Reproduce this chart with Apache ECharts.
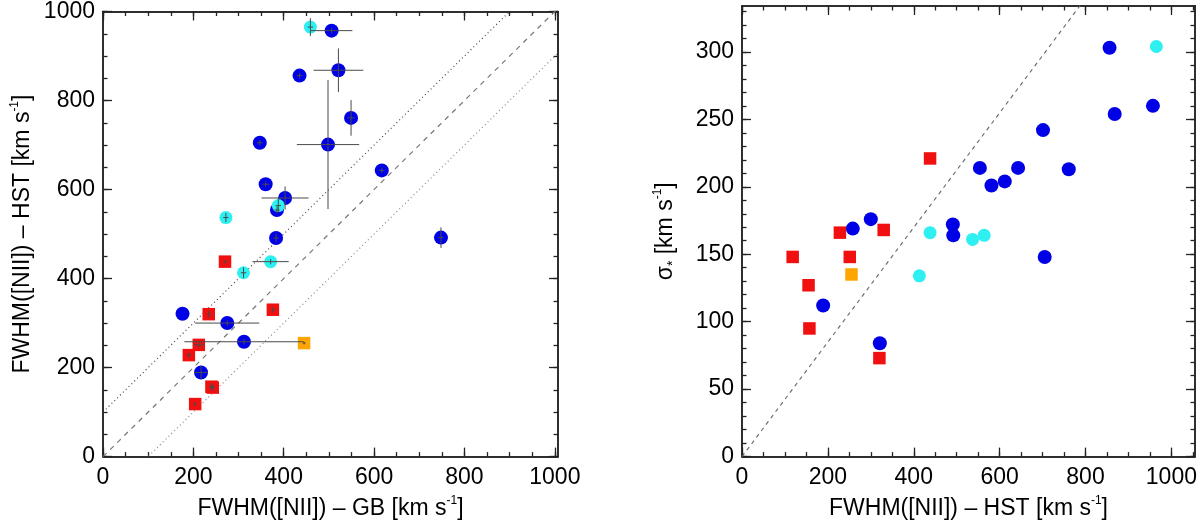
<!DOCTYPE html>
<html>
<head>
<meta charset="utf-8">
<script src="https://cdn.jsdelivr.net/npm/echarts@6/dist/echarts.min.js"></script>
<style>
html, body { margin: 0; padding: 0; background: #fff; }
#main { width: 1200px; height: 525px; }
</style>
</head>
<body>
<div id="main"></div>
<script>
// blue circles
var blueGB     = [506, 521, 435, 549, 347, 498, 617, 360, 403, 385, 383, 748, 176, 275, 312, 217];
var blueHST    = [957, 868, 856, 761, 705, 701, 643, 612, 581, 554, 491, 492, 321, 300, 258, 189];
var blueSig    = [260, 254, 303, 213, 148, 242, 214, 204, 201, 214, 172, 164, 84, 176, 169, 112];
var blueGBErr  = [46, 55, 6, 8, 6, 69, 6, 8, 52, 6, 6, 6, 0, 71, 132, 15];
var blueHSTErr = [6, 49, 6, 40, 6, 145, 6, 6, 26, 8, 10, 23, 0, 6, 6, 15];

// cyan circles
var cyanGB     = [459, 388, 272, 371, 311];
var cyanHST    = [965, 564, 537, 438, 413];
var cyanSig    = [304, 164, 161, 166, 134];
var cyanGBErr  = [6, 6, 6, 40, 6];
var cyanHSTErr = [20, 15, 10, 6, 12];

// red squares
var redGB     = [270, 376, 234, 212, 190, 243, 240, 204];
var redHST    = [438, 330, 320, 251, 228, 155, 157, 118];
var redSig    = [221, 168, 73, 148, 166, 127, 95, 148];
var redGBErr  = [4, 5, 5, 12, 5, 5, 5, 4];
var redHSTErr = [4, 6, 8, 6, 6, 8, 8, 4];

// orange square
var orangeGB     = [445];
var orangeHST    = [255];
var orangeSig    = [135];
var orangeGBErr  = [3];
var orangeHSTErr = [3];

// ticks
var fwhmMajor  = [0, 200, 400, 600, 800, 1000];
var fwhmMinor  = [0, 50, 100, 150, 200, 250, 300, 350, 400, 450, 500, 550, 600, 650, 700, 750, 800, 850, 900, 950, 1000, 1050];
var sigMajor   = [0, 50, 100, 150, 200, 250, 300];
var sigMinor   = [0, 10, 20, 30, 40, 50, 60, 70, 80, 90, 100, 110, 120, 130, 140, 150, 160, 170, 180, 190, 200,
                  210, 220, 230, 240, 250, 260, 270, 280, 290, 300, 310, 320, 330];
var offsets    = [100, 0, -100];   // y = x + offset, left panel
var fwhmToSig  = 2.355;            // right panel: sigma = FWHM / 2.355

var FONT = 'Liberation Sans';

function zip(a, b, c, d) {
    var out = [];
    for (var i = 0; i < a.length; i++) {
        out.push(c ? [a[i], b[i], c[i], d[i]] : [a[i], b[i]]);
    }
    return out;
}

function axis(dim, grid, pos, min, max, ticks, len, label, name, gap) {
    var ax = {
        type: 'value',
        gridIndex: grid,
        position: pos,
        min: min,
        max: max,
        axisLine: { show: true, onZero: false, lineStyle: { color: '#222', width: 1.5 } },
        axisTick: { show: true, inside: true, length: len, customValues: ticks,
                    lineStyle: { color: '#222', width: 1.3 } },
        axisLabel: { show: false },
        splitLine: { show: false }
    };
    if (label) {
        ax.axisLabel = { show: true, customValues: ticks, color: '#000', fontFamily: FONT,
                         fontSize: 23, margin: dim === 'x' ? 10 : 8,
                         formatter: function (v) { return String(v); } };
    }
    if (name) {
        ax.name = name;
        ax.nameLocation = 'middle';
        ax.nameGap = gap;
        ax.nameTextStyle = {
            fontFamily: FONT,
            rich: {
                t: { fontFamily: FONT, fontSize: 23, color: '#000', lineHeight: 28 },
                s: { fontFamily: FONT, fontSize: 12, color: '#000', verticalAlign: 'top', lineHeight: 28 },
                b: { fontFamily: FONT, fontSize: 14, color: '#000', verticalAlign: 'bottom', lineHeight: 24 }
            }
        };
        if (dim === 'y') ax.nameRotate = 90;
    }
    return ax;
}

function renderErr(params, api) {
    var x = api.value(0), y = api.value(1), ex = api.value(2), ey = api.value(3);
    var kids = [];
    var st = { stroke: '#4a4a4a', lineWidth: 1 };
    if (ex > 0) {
        var a = api.coord([x - ex, y]), b = api.coord([x + ex, y]);
        kids.push({ type: 'line', shape: { x1: a[0], y1: a[1], x2: b[0], y2: b[1] }, style: st });
    }
    if (ey > 0) {
        var c = api.coord([x, y - ey]), d = api.coord([x, y + ey]);
        kids.push({ type: 'line', shape: { x1: c[0], y1: c[1], x2: d[0], y2: d[1] }, style: st });
    }
    return { type: 'group', children: kids };
}

var L_XMAX = 1007, L_YMAX = 1000, R_XMAX = 1055, R_YMAX = 334;

var xName1 = '{t|FWHM([NII]) – GB [km s}{s|-1}{t|]}';
var yName1 = '{t|FWHM([NII]) – HST [km s}{s|-1}{t|]}';
var xName2 = '{t|FWHM([NII]) – HST [km s}{s|-1}{t|]}';
var yName2 = '{t|σ}{b|*}{t| [km s}{s|-1}{t|]}';

var refLeft = offsets.map(function (o, i) {
    return {
        type: 'line', xAxisIndex: 0, yAxisIndex: 0, symbol: 'none', silent: true, z: 1,
        data: [[0, o], [L_XMAX, L_XMAX + o]],
        lineStyle: o === 0 ? { color: '#777', width: 1.2, type: [5, 5] }
                           : { color: o > 0 ? '#444' : '#888', width: 1.2, type: [1, 3] }
    };
});

function scatter(name, xi, data, shape, color, size) {
    return {
        name: name, type: 'scatter', xAxisIndex: xi, yAxisIndex: xi, z: 2,
        symbol: shape, symbolSize: size, data: data,
        itemStyle: { color: color, opacity: 1 }
    };
}

function errs(data) {
    return {
        type: 'custom', xAxisIndex: 0, yAxisIndex: 0, z: 3, silent: true,
        renderItem: renderErr, data: data
    };
}

var option = {
    animation: false,
    backgroundColor: '#fff',
    grid: [
        { left: 103, top: 6, width: 455, height: 455 },
        { left: 742, top: 6, width: 453, height: 455 }
    ],
    xAxis: [
        axis('x', 0, 'bottom', 0, L_XMAX, fwhmMajor, 9, true, xName1, 35),
        axis('x', 0, 'bottom', 0, L_XMAX, fwhmMinor, 4.5, false),
        axis('x', 0, 'top', 0, L_XMAX, fwhmMajor, 9, false),
        axis('x', 0, 'top', 0, L_XMAX, fwhmMinor, 4.5, false),
        axis('x', 1, 'bottom', 0, R_XMAX, fwhmMajor, 9, true, xName2, 35),
        axis('x', 1, 'bottom', 0, R_XMAX, fwhmMinor, 4.5, false),
        axis('x', 1, 'top', 0, R_XMAX, fwhmMajor, 9, false),
        axis('x', 1, 'top', 0, R_XMAX, fwhmMinor, 4.5, false)
    ],
    yAxis: [
        axis('y', 0, 'left', 0, L_YMAX, fwhmMajor, 9, true, yName1, 66),
        axis('y', 0, 'left', 0, L_YMAX, fwhmMinor, 4.5, false),
        axis('y', 0, 'right', 0, L_YMAX, fwhmMajor, 9, false),
        axis('y', 0, 'right', 0, L_YMAX, fwhmMinor, 4.5, false),
        axis('y', 1, 'left', 0, R_YMAX, sigMajor, 9, true, yName2, 62),
        axis('y', 1, 'left', 0, R_YMAX, sigMinor, 4.5, false),
        axis('y', 1, 'right', 0, R_YMAX, sigMajor, 9, false),
        axis('y', 1, 'right', 0, R_YMAX, sigMinor, 4.5, false)
    ],
    series: refLeft.concat([
        {
            type: 'line', xAxisIndex: 4, yAxisIndex: 4, symbol: 'none', silent: true, z: 1,
            data: [[0, 0], [R_XMAX, R_XMAX / fwhmToSig]],
            lineStyle: { color: '#666', width: 1.1, type: [4, 4] }
        },
        scatter('blue', 0, zip(blueGB, blueHST), 'circle', '#0000e6', 14),
        scatter('cyan', 0, zip(cyanGB, cyanHST), 'circle', '#2ef0f0', 13),
        scatter('red', 0, zip(redGB, redHST), 'rect', '#f01010', 12.5),
        scatter('orange', 0, zip(orangeGB, orangeHST), 'rect', '#ffa500', 12.5),
        errs(zip(blueGB, blueHST, blueGBErr, blueHSTErr)),
        errs(zip(cyanGB, cyanHST, cyanGBErr, cyanHSTErr)),
        errs(zip(redGB, redHST, redGBErr, redHSTErr)),
        errs(zip(orangeGB, orangeHST, orangeGBErr, orangeHSTErr)),
        scatter('blue', 4, zip(blueHST, blueSig), 'circle', '#0000e6', 14),
        scatter('cyan', 4, zip(cyanHST, cyanSig), 'circle', '#2ef0f0', 13),
        scatter('red', 4, zip(redHST, redSig), 'rect', '#f01010', 12.5),
        scatter('orange', 4, zip(orangeHST, orangeSig), 'rect', '#ffa500', 12.5)
    ])
};

var myChart = echarts.init(document.getElementById('main'));
myChart.setOption(option);
</script>
</body>
</html>
